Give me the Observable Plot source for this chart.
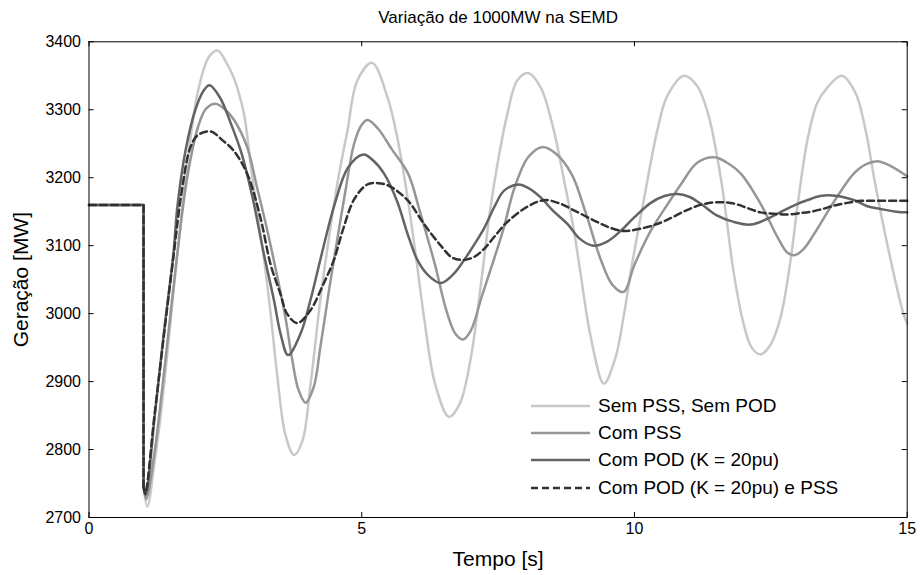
<!DOCTYPE html>
<html>
<head>
<meta charset="utf-8">
<script src="https://cdn.jsdelivr.net/npm/d3@7"></script>
<script src="https://cdn.jsdelivr.net/npm/@observablehq/plot@0.6"></script>
<style>
  body { margin: 0; background: #fff; }
  #wrap { position: relative; width: 920px; height: 575px; font-family: "Liberation Sans", Arial, sans-serif; }
  #legend { position: absolute; left: 531px; top: 392px; }
  .row { display: flex; align-items: center; height: 27.4px; }
  .row svg { width: 60px; height: 10px; margin-right: 7px; }
  .row span { font-size: 19px; color: #000; white-space: nowrap; }
</style>
</head>
<body>
<div id="wrap"><div id="chart"></div><div id="legend"></div></div>
<script>
// ---- text ----
const title = "Variação de 1000MW na SEMD";
const xLabel = "Tempo [s]";
const yLabel = "Geração [MW]";
const seriesNames = ["Sem PSS, Sem POD", "Com PSS", "Com POD (K = 20pu)", "Com POD (K = 20pu) e PSS"];
const seriesColors = ["#c8c8c8", "#969696", "#646464", "#323232"];
const seriesDash = [null, null, null, "7,4"];

// ---- ticks ----
const xTicks = [0, 5, 10, 15];
const yTicks = [2700, 2800, 2900, 3000, 3100, 3200, 3300, 3400];

// ---- pre-fault step (common to all series) ----
const tStep = [0, 1, 1];
const vStep = [3160, 3160, 2745];

// ---- Sem PSS, Sem POD ----
const tSem = [1.0, 1.07, 1.2, 1.34, 1.59, 1.8, 2.0, 2.2, 2.36, 2.5, 2.65, 2.84, 2.96, 3.1, 3.21, 3.33, 3.45, 3.6, 3.76, 3.91, 4.06, 4.24, 4.34, 4.55, 4.74, 4.92, 5.19, 5.47, 5.65, 5.84, 6.0, 6.15, 6.35, 6.6, 6.8, 7.0, 7.18, 7.35, 7.49, 7.67, 7.85, 8.05, 8.28, 8.52, 8.71, 8.89, 9.01, 9.2, 9.44, 9.65, 9.8, 9.95, 10.18, 10.42, 10.6, 10.91, 11.15, 11.35, 11.59, 11.82, 12.0, 12.15, 12.31, 12.5, 12.68, 12.86, 13.0, 13.17, 13.35, 13.54, 13.8, 14.05, 14.25, 14.39, 14.64, 14.93, 15.0];
const vSem = [2745, 2716, 2780, 2868, 3064, 3220, 3328, 3378, 3387, 3372, 3348, 3294, 3221, 3140, 3079, 3000, 2910, 2822, 2792, 2812, 2895, 3020, 3079, 3190, 3270, 3343, 3369, 3319, 3260, 3171, 3080, 2990, 2895, 2848, 2868, 2935, 3040, 3150, 3221, 3294, 3343, 3354, 3333, 3270, 3196, 3122, 3060, 2965, 2897, 2935, 2995, 3070, 3171, 3270, 3320, 3350, 3335, 3294, 3196, 3060, 2985, 2950, 2940, 2955, 2995, 3078, 3165, 3255, 3310, 3333, 3350, 3325, 3265, 3201, 3100, 3000, 2985];

// ---- Com PSS ----
const tPSS = [1.0, 1.05, 1.2, 1.35, 1.6, 1.8, 2.0, 2.15, 2.32, 2.5, 2.66, 2.9, 3.08, 3.27, 3.45, 3.6, 3.72, 3.84, 3.97, 4.12, 4.24, 4.39, 4.49, 4.7, 4.86, 5.0, 5.11, 5.3, 5.55, 5.85, 6.05, 6.2, 6.35, 6.55, 6.72, 6.86, 7.0, 7.2, 7.42, 7.6, 7.8, 8.05, 8.3, 8.55, 8.85, 9.1, 9.38, 9.6, 9.8, 10.0, 10.3, 10.6, 10.85, 11.15, 11.46, 11.7, 11.95, 12.31, 12.62, 12.8, 12.93, 13.1, 13.3, 13.66, 14.02, 14.25, 14.48, 14.75, 15.0];
const vPSS = [2745, 2727, 2795, 2895, 3075, 3200, 3275, 3302, 3309, 3300, 3285, 3245, 3186, 3122, 3055, 2995, 2935, 2888, 2869, 2892, 2950, 3029, 3079, 3180, 3250, 3278, 3285, 3272, 3242, 3206, 3155, 3113, 3070, 3005, 2970, 2962, 2975, 3025, 3079, 3125, 3185, 3230, 3245, 3236, 3205, 3150, 3080, 3042, 3032, 3072, 3122, 3160, 3190, 3222, 3230, 3222, 3206, 3162, 3113, 3090, 3086, 3095, 3118, 3165, 3206, 3220, 3224, 3215, 3202];

// ---- Com POD (K = 20pu) ----
const tPOD = [1.0, 1.04, 1.2, 1.37, 1.55, 1.62, 1.77, 1.95, 2.1, 2.21, 2.4, 2.6, 2.8, 3.0, 3.2, 3.39, 3.51, 3.65, 3.88, 4.06, 4.24, 4.5, 4.75, 5.03, 5.2, 5.41, 5.65, 5.85, 6.02, 6.2, 6.45, 6.69, 6.87, 7.05, 7.24, 7.45, 7.61, 7.88, 8.05, 8.28, 8.5, 8.77, 9.0, 9.25, 9.5, 9.75, 10.0, 10.3, 10.55, 10.79, 11.0, 11.21, 11.5, 11.82, 12.13, 12.45, 12.74, 13.0, 13.17, 13.4, 13.63, 14.03, 14.27, 14.51, 14.8, 15.0];
const vPOD = [2745, 2733, 2845, 2970, 3090, 3157, 3240, 3300, 3328, 3336, 3318, 3280, 3235, 3170, 3090, 3020, 2971, 2939, 2971, 3020, 3079, 3160, 3215, 3234, 3226, 3206, 3165, 3115, 3079, 3058, 3045, 3059, 3078, 3100, 3125, 3160, 3181, 3190, 3185, 3171, 3152, 3132, 3110, 3100, 3106, 3122, 3142, 3163, 3173, 3176, 3172, 3162, 3145, 3135, 3131, 3140, 3152, 3162, 3167, 3173, 3174, 3167, 3158, 3154, 3150, 3149];

// ---- Com POD (K = 20pu) e PSS ----
const tPODPSS = [1.0, 1.03, 1.2, 1.37, 1.55, 1.7, 1.86, 2.0, 2.23, 2.45, 2.65, 2.9, 3.14, 3.33, 3.51, 3.63, 3.82, 4.06, 4.3, 4.49, 4.65, 4.86, 5.1, 5.3, 5.5, 5.84, 6.14, 6.45, 6.65, 6.84, 7.05, 7.24, 7.45, 7.67, 8.03, 8.34, 8.6, 8.89, 9.26, 9.5, 9.75, 9.9, 10.11, 10.35, 10.6, 10.9, 11.21, 11.52, 11.82, 12.05, 12.31, 12.55, 12.8, 13.05, 13.23, 13.45, 13.66, 13.9, 14.15, 14.5, 15.0];
const vPODPSS = [2745, 2735, 2850, 2966, 3085, 3180, 3245, 3263, 3268, 3255, 3240, 3206, 3142, 3072, 3029, 3000, 2986, 3005, 3044, 3079, 3122, 3168, 3190, 3192, 3188, 3167, 3132, 3100, 3083, 3079, 3083, 3095, 3115, 3135, 3157, 3167, 3163, 3152, 3137, 3128, 3122, 3122, 3125, 3130, 3138, 3150, 3160, 3164, 3162, 3156, 3149, 3147, 3146, 3148, 3150, 3154, 3159, 3163, 3166, 3166, 3166];

const seriesT = [tSem, tPSS, tPOD, tPODPSS];
const seriesV = [vSem, vPSS, vPOD, vPODPSS];

const rows = (ts, vs) => ts.map((t, i) => ({t, v: vs[i]}));
const stepRows = rows(tStep, vStep);

const font = "'Liberation Sans', Arial, sans-serif";

const W = 920, H = 575, mL = 88.5, mR = 13.3, mT = 41.3, mB = 58;
const plotW = W - mL - mR, plotH = H - mT - mB, tickLen = 5;

const lineMarks = [];
seriesT.forEach((ts, i) => {
  const common = {x: "t", y: "v", stroke: seriesColors[i], strokeWidth: 2.5, strokeDasharray: seriesDash[i] || undefined};
  lineMarks.push(Plot.line(stepRows, {...common, curve: "linear"}));
  lineMarks.push(Plot.line(rows(ts, seriesV[i]), {...common, curve: "catmull-rom"}));
});

const chart = Plot.plot({
  width: W,
  height: H,
  marginLeft: mL,
  marginRight: mR,
  marginTop: mT,
  marginBottom: mB,
  style: {fontFamily: font, background: "#fff", color: "#000", overflow: "visible"},
  x: {domain: [0, 15]},
  y: {domain: [2700, 3400]},
  marks: [
    ...lineMarks,
    // inward tick marks on all four sides (MATLAB box style)
    Plot.tickY(yTicks, {y: d => d, stroke: "#000", strokeWidth: 1, insetRight: plotW - tickLen}),
    Plot.tickY(yTicks, {y: d => d, stroke: "#000", strokeWidth: 1, insetLeft: plotW - tickLen}),
    Plot.tickX(xTicks, {x: d => d, stroke: "#000", strokeWidth: 1, insetTop: plotH - tickLen}),
    Plot.tickX(xTicks, {x: d => d, stroke: "#000", strokeWidth: 1, insetBottom: plotH - tickLen}),
    Plot.frame({stroke: "#000", strokeWidth: 1}),
    Plot.axisY({ticks: yTicks, anchor: "left", tickSize: 0, tickPadding: 8, tickFormat: d => String(d), fontSize: 16, label: null}),
    Plot.axisX({ticks: xTicks, anchor: "bottom", tickSize: 0, tickPadding: 5, tickFormat: d => String(d), fontSize: 16, label: null}),
    Plot.text([title], {frameAnchor: "top", dy: -24, fontSize: 17, textAnchor: "middle", lineAnchor: "middle"}),
    Plot.text([xLabel], {frameAnchor: "bottom", dy: 42, fontSize: 21, textAnchor: "middle", lineAnchor: "middle"}),
    Plot.text([yLabel], {frameAnchor: "left", dx: -68, rotate: -90, fontSize: 21, textAnchor: "middle", lineAnchor: "middle"})
  ]
});
document.getElementById("chart").appendChild(chart);

// ---- legend ----
const legend = document.getElementById("legend");
seriesNames.forEach((name, i) => {
  const row = document.createElement("div");
  row.className = "row";
  const dash = seriesDash[i] ? `stroke-dasharray="${seriesDash[i]}"` : "";
  row.innerHTML = `<svg viewBox="0 0 60 10"><line x1="0" y1="5" x2="59" y2="5" stroke="${seriesColors[i]}" stroke-width="2.5" ${dash}/></svg><span>${name}</span>`;
  legend.appendChild(row);
});
</script>
</body>
</html>
